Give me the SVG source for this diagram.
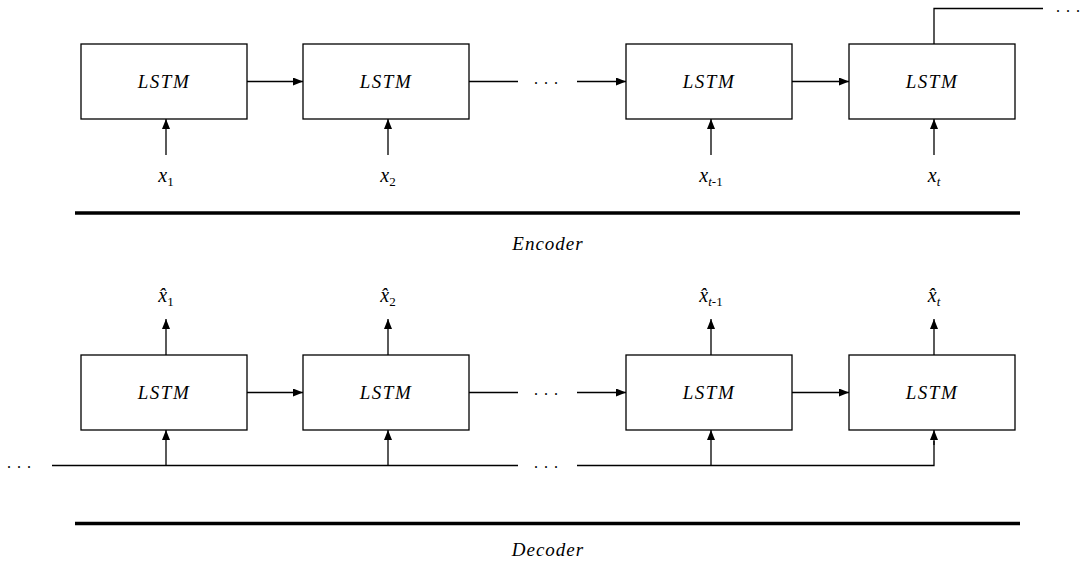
<svg xmlns="http://www.w3.org/2000/svg" width="1090" height="567" viewBox="0 0 1090 567">
<style>
.box{fill:#fff;stroke:#000;stroke-width:1.3}
.ln{fill:none;stroke:#000;stroke-width:1.3}
.thick{fill:none;stroke:#000;stroke-width:3.5}
text{font-family:'Liberation Serif','DejaVu Serif',serif;fill:#000}
.t{font-style:italic;font-size:19px;text-anchor:middle}
.v{font-style:italic;font-size:20px;text-anchor:middle}
.sub{font-size:13px}
.up{font-style:normal}
.dots{font-size:16px;letter-spacing:6px}
</style>
<defs>
<marker id="ah" viewBox="0 0 10 8" refX="10" refY="4" markerWidth="10" markerHeight="8" markerUnits="userSpaceOnUse" orient="auto">
<path d="M0,0 L10,4 L0,8 Z" fill="#000"/>
</marker>
</defs>
<g id="connectors">
<line class="ln" x1="247" y1="81.5" x2="303" y2="81.5" marker-end="url(#ah)"/>
<line class="ln" x1="469" y1="81.5" x2="518" y2="81.5"/>
<line class="ln" x1="577" y1="81.5" x2="626" y2="81.5" marker-end="url(#ah)"/>
<line class="ln" x1="792" y1="81.5" x2="849" y2="81.5" marker-end="url(#ah)"/>
<line class="ln" x1="166" y1="155" x2="166" y2="119" marker-end="url(#ah)"/>
<line class="ln" x1="388" y1="155" x2="388" y2="119" marker-end="url(#ah)"/>
<line class="ln" x1="711" y1="155" x2="711" y2="119" marker-end="url(#ah)"/>
<line class="ln" x1="934" y1="155" x2="934" y2="119" marker-end="url(#ah)"/>
<polyline class="ln" points="934,44 934,8.5 1043,8.5"/>
<line class="ln" x1="247" y1="392.5" x2="303" y2="392.5" marker-end="url(#ah)"/>
<line class="ln" x1="469" y1="392.5" x2="518" y2="392.5"/>
<line class="ln" x1="577" y1="392.5" x2="626" y2="392.5" marker-end="url(#ah)"/>
<line class="ln" x1="792" y1="392.5" x2="849" y2="392.5" marker-end="url(#ah)"/>
<line class="ln" x1="166" y1="355" x2="166" y2="319" marker-end="url(#ah)"/>
<line class="ln" x1="388" y1="355" x2="388" y2="319" marker-end="url(#ah)"/>
<line class="ln" x1="711" y1="355" x2="711" y2="319" marker-end="url(#ah)"/>
<line class="ln" x1="934" y1="355" x2="934" y2="319" marker-end="url(#ah)"/>
<line class="ln" x1="52" y1="465.5" x2="518" y2="465.5"/>
<polyline class="ln" points="577,465.5 934,465.5 934,441"/>
<line class="ln" x1="934" y1="445" x2="934" y2="430" marker-end="url(#ah)"/>
<line class="ln" x1="166" y1="465.5" x2="166" y2="430" marker-end="url(#ah)"/>
<line class="ln" x1="388" y1="465.5" x2="388" y2="430" marker-end="url(#ah)"/>
<line class="ln" x1="711" y1="465.5" x2="711" y2="430" marker-end="url(#ah)"/>
<line class="thick" x1="75" y1="213" x2="1020" y2="213"/>
<line class="thick" x1="75" y1="523.5" x2="1020" y2="523.5"/>
</g>
<g id="dots">
<text class="dots" x="534" y="84">...</text>
<text class="dots" x="534" y="395">...</text>
<text class="dots" x="1056" y="12" font-size="11" letter-spacing="7">...</text>
<text class="dots" x="534" y="468">...</text>
<text class="dots" x="7" y="468">...</text>
</g>
<g id="enc1"><rect class="box" x="81" y="44" width="166" height="75"/><text class="t" x="164" y="88" letter-spacing="1.5">LSTM</text></g>
<g id="enc2"><rect class="box" x="303" y="44" width="166" height="75"/><text class="t" x="386" y="88" letter-spacing="1.5">LSTM</text></g>
<g id="enc3"><rect class="box" x="626" y="44" width="166" height="75"/><text class="t" x="709" y="88" letter-spacing="1.5">LSTM</text></g>
<g id="enc4"><rect class="box" x="849" y="44" width="166" height="75"/><text class="t" x="932" y="88" letter-spacing="1.5">LSTM</text></g>
<g id="dec1"><rect class="box" x="81" y="355" width="166" height="75"/><text class="t" x="164" y="399" letter-spacing="1.5">LSTM</text></g>
<g id="dec2"><rect class="box" x="303" y="355" width="166" height="75"/><text class="t" x="386" y="399" letter-spacing="1.5">LSTM</text></g>
<g id="dec3"><rect class="box" x="626" y="355" width="166" height="75"/><text class="t" x="709" y="399" letter-spacing="1.5">LSTM</text></g>
<g id="dec4"><rect class="box" x="849" y="355" width="166" height="75"/><text class="t" x="932" y="399" letter-spacing="1.5">LSTM</text></g>
<g id="inputs">
<text class="v" x="166" y="182">x<tspan class="sub up" dy="4">1</tspan></text>
<text class="v" x="388" y="182">x<tspan class="sub up" dy="4">2</tspan></text>
<text class="v" x="711" y="182">x<tspan class="sub" dy="4">t</tspan><tspan class="sub up">-1</tspan></text>
<text class="v" x="934" y="182">x<tspan class="sub" dy="4">t</tspan></text>
</g>
<g id="outputs">
<text class="v" x="166" y="302">x̂<tspan class="sub up" dy="4">1</tspan></text>
<text class="v" x="388" y="302">x̂<tspan class="sub up" dy="4">2</tspan></text>
<text class="v" x="711" y="302">x̂<tspan class="sub" dy="4">t</tspan><tspan class="sub up">-1</tspan></text>
<text class="v" x="934" y="302">x̂<tspan class="sub" dy="4">t</tspan></text>
</g>
<g id="labels">
<text class="t" x="548" y="250" font-size="18" letter-spacing="1">Encoder</text>
<text class="t" x="548" y="556" font-size="18" letter-spacing="1">Decoder</text>
</g>
</svg>
